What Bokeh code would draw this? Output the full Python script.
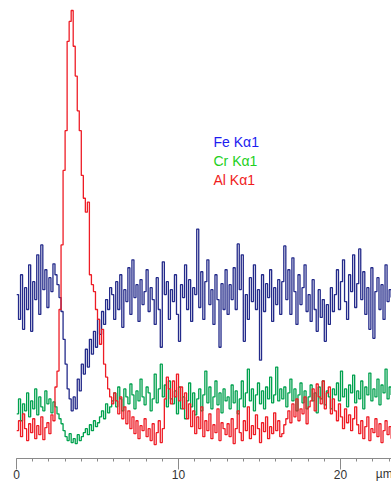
import numpy as np
from bokeh.plotting import figure
from bokeh.models import Range1d, FixedTicker, Label, ColumnDataSource
from bokeh.embed import file_html
from bokeh.resources import INLINE

# Line scan: position step (µm) and intensities (arbitrary counts)
step_um = 0.125

fe_ka1 = [165, 140, 185, 130, 172, 150, 195, 128, 178, 160, 205, 145, 215, 170, 190, 152, 182, 168, 196,
          185, 175, 162,
          148, 120, 95, 70, 60, 48, 62, 50, 80, 68, 95, 85, 110, 92, 120, 105, 128, 112, 140, 125, 148, 135, 160, 150, 172,
          165, 140, 178, 150, 185, 132, 170, 158, 192, 145, 200, 162, 175, 138, 180, 155, 168, 190, 148, 172,
          160, 135, 182, 150, 112, 198, 165, 178, 140, 170,
          158, 185, 145, 118, 175, 162, 195, 150, 180, 138, 172, 165, 231, 152, 188, 140, 178, 200, 155, 170,
          135, 185, 160, 112, 176, 150, 190,
          145, 175, 160, 192, 150, 216, 170, 205, 118, 165, 140, 182, 158, 195, 150, 170, 99, 185, 148, 176,
          162, 190, 138, 172, 155, 180, 145,
          178, 214, 160, 190, 145, 202, 168, 135, 185, 155, 172, 195, 148, 165, 138, 180, 150, 128, 170, 142,
          160, 118, 155, 135, 172, 148,
          165, 190, 150, 178, 200, 158, 140, 185, 168, 205, 152, 176, 211, 160, 188, 145, 172, 130, 192, 121,
          168, 182, 150, 175, 140, 195, 158, 170, 162]

cr_ka1 = [45, 60, 38, 55, 48, 66, 42, 58, 50, 70, 44, 62, 52, 48, 68, 55, 60, 46, 57,
          52, 45, 40, 35,
          28, 22, 18, 25, 16, 20, 15, 24, 18, 22,
          26, 30, 24, 34, 28, 38, 32, 36,
          42, 48, 40, 55, 46, 52,
          58, 66, 52, 72, 60, 48, 70, 62, 55, 75, 64, 50, 68, 58, 80, 62, 54, 72, 66, 48,
          60, 85, 56, 70, 95, 62, 74, 52, 78, 60,
          55, 68, 45, 72, 50, 62, 40, 58, 76, 52, 66, 44, 60, 70, 48, 64, 88, 56, 72, 50,
          62, 78, 54, 66, 46, 70, 58,
          62, 50, 74, 56, 68, 45, 60, 78, 52, 66, 90, 58, 70, 48, 64, 76, 55, 68, 50, 72,
          60, 82, 56, 64, 92, 58, 70,
          60, 72, 52, 66, 80, 58, 70, 48, 64, 76, 56, 68, 50, 62, 74, 58, 66, 46, 72, 60,
          78, 54, 68, 62, 50, 70,
          64, 76, 58, 88, 62, 70, 52, 74, 66, 84, 56, 68, 60, 78, 50, 72, 64, 86, 58, 70,
          62, 80, 54, 74, 66, 90, 60, 72, 64]

al_ka1 = [28, 38, 22, 45, 30, 18, 35, 26, 40, 20, 33, 24, 42, 19, 31, 36, 25, 44, 38,
          72, 88, 150, 215, 290, 330, 420, 440, 451, 415, 385, 350, 330, 285, 262, 248, 258, 185, 175, 168,
          150, 140, 115, 130, 95, 82, 70, 62, 55, 66,
          58, 45, 62, 40, 52, 35, 48,
          30, 42, 25, 38, 20, 33, 28, 40, 22, 30,
          18, 35, 14, 26, 38, 16, 30,
          60, 82, 70, 55,
          78, 62, 85, 58, 72, 50, 66,
          40, 55, 32, 48, 25, 42, 30, 52, 22, 38, 28, 45, 20, 34, 26, 50, 18, 36, 30, 24,
          35, 22, 40, 15, 30, 48, 26, 18, 38, 28, 52, 20, 33, 24, 44, 30, 16, 36, 27, 42,
          20, 32, 25, 46, 28, 38, 22,
          25, 34, 40, 48, 36,
          55, 42, 60, 38, 50, 45, 62, 35, 52,
          58, 70, 48, 75, 62, 55, 78, 50, 66, 72, 45, 60,
          48, 38, 55, 42, 30, 50, 36, 44, 28, 40, 52, 34,
          25, 38, 20, 32, 42, 18, 30, 26, 40, 22, 35, 16, 28, 38, 24, 32, 20]

series_names = ["Fe K\u03b11", "Cr K\u03b11", "Al K\u03b11"]
line_colors = ["#232a8a", "#00a14e", "#ee1c25"]
text_colors = ["#1c1cf0", "#22d022", "#f01c1c"]
major_ticks = [0, 10, 20]
unit_label = "\u00b5m"

FONT = "Liberation Sans"

p = figure(width=391, height=483, output_backend="svg", toolbar_location=None,
           x_range=Range1d(0, 23.148), y_range=Range1d(0, 453),
           y_axis_location=None, min_border_left=16, min_border_right=0,
           min_border_top=8, min_border_bottom=0)
p.outline_line_color = None
p.xgrid.visible = False
p.ygrid.visible = False
p.background_fill_color = "white"
p.border_fill_color = "white"

for vals, col in zip([fe_ka1, cr_ka1, al_ka1], line_colors):
    xs = np.arange(len(vals)) * step_um
    src = ColumnDataSource(dict(x=xs, y=vals))
    p.step("x", "y", source=src, mode="after", line_color=col, line_width=1.3)

ax = p.xaxis[0]
ax.ticker = FixedTicker(ticks=major_ticks, minor_ticks=list(range(0, 24)))
ax.major_tick_out = 11
ax.major_tick_in = 0
ax.minor_tick_out = 3
ax.minor_tick_in = 0
ax.major_label_standoff = 0
ax.axis_line_color = "#8a8a8a"
ax.major_tick_line_color = "#8a8a8a"
ax.minor_tick_line_color = "#8a8a8a"
ax.major_label_text_font = FONT
ax.major_label_text_font_size = "12px"
ax.major_label_text_color = "#333333"
# unit shown at the right end of the axis, on the tick-label row
# (the label is centred on the frame's right edge; trailing em/thin spaces shift it inside)
ax.axis_label = unit_label + "\u2003\u2009"
ax.axis_label_align = "end"
ax.axis_label_standoff = -15
ax.axis_label_text_font = FONT
ax.axis_label_text_font_size = "12px"
ax.axis_label_text_font_style = "normal"
ax.axis_label_text_color = "#333333"

# legend texts
for k, (name, tc) in enumerate(zip(series_names, text_colors)):
    p.add_layout(Label(x=12.16, y=461 - (142 + 19.5 * k), text=name, text_font=FONT,
                       text_font_size="14px", text_color=tc, text_baseline="alphabetic",
                       text_align="left"))

open("out.html", "w").write(file_html(p, INLINE))
